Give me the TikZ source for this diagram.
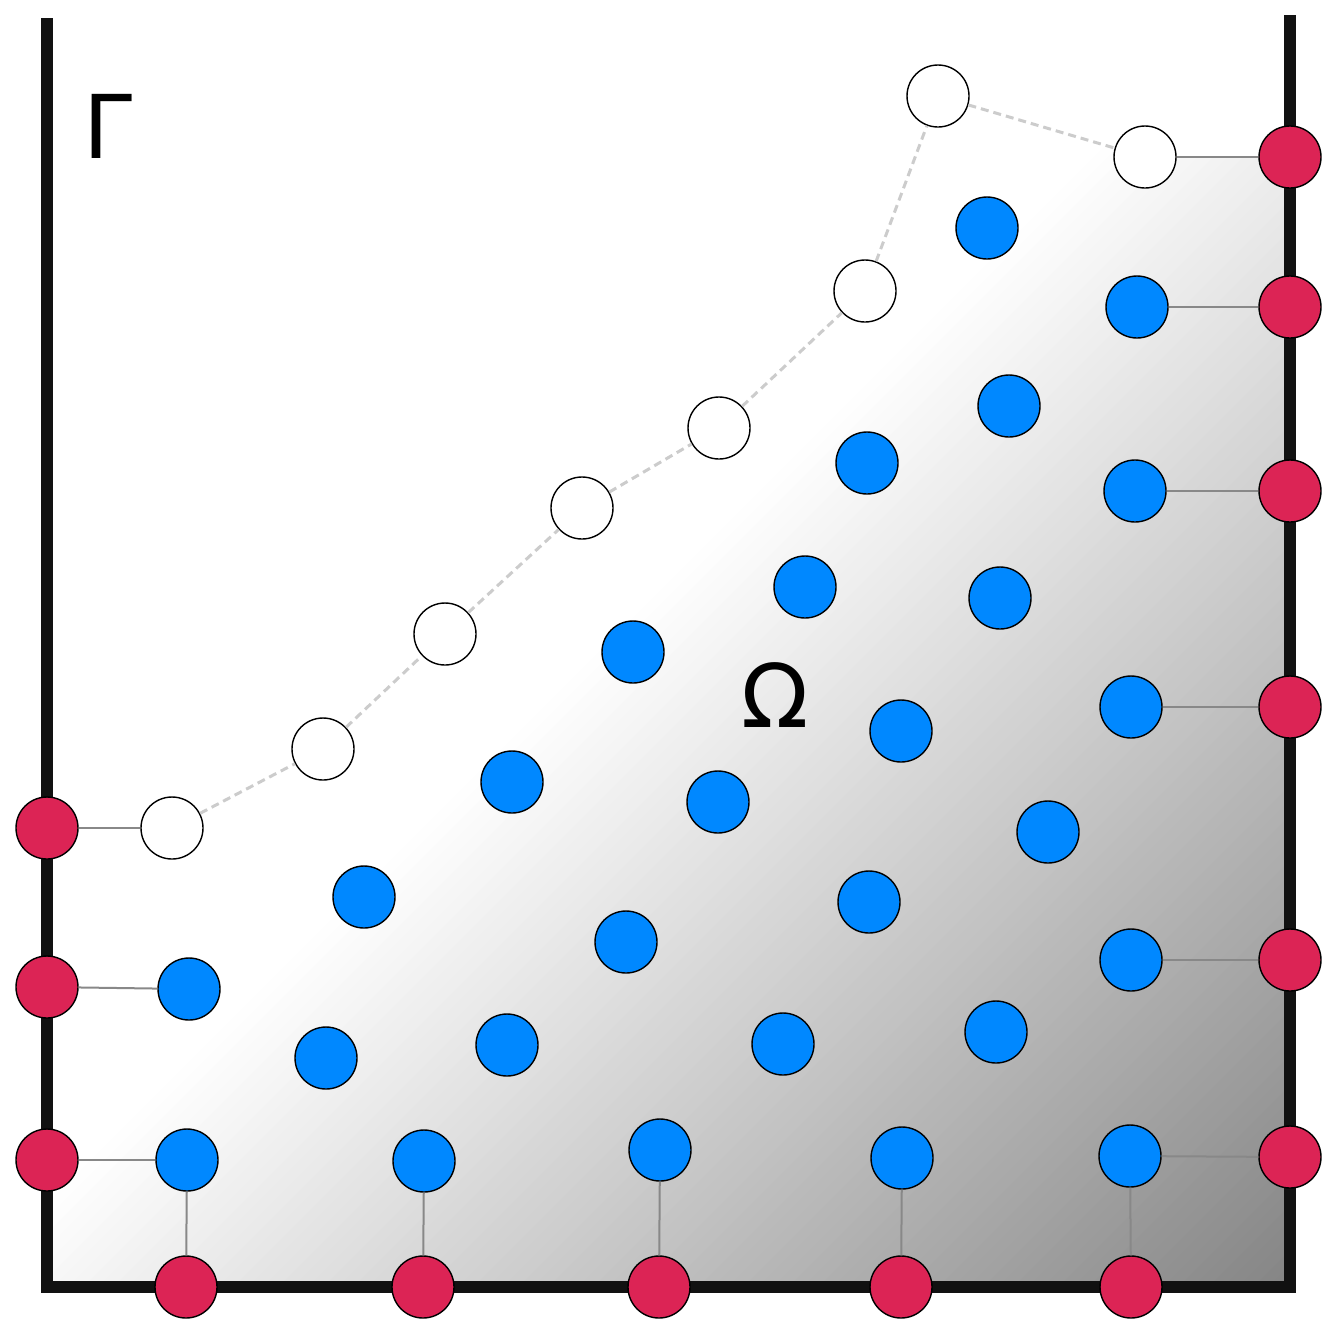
\documentclass[tikz,border=0pt]{standalone}
\usepackage{fontspec}
\newfontfamily\dvsans{DejaVu Sans}
\definecolor{redc}{RGB}{220,36,85}
\definecolor{bluec}{RGB}{0,136,255}
\definecolor{wallc}{RGB}{17,17,17}
\definecolor{linkc}{RGB}{136,136,136}
\definecolor{dashc}{RGB}{204,204,204}
\begin{document}
\begin{tikzpicture}[x=0.5pt,y=-0.5pt,
  pt/.style={circle,draw=black,line width=0.7pt,minimum size=31pt,inner sep=0pt},
  redn/.style={pt,fill=redc},
  bluen/.style={pt,fill=bluec},
  whiten/.style={pt,fill=white},
  link/.style={draw=linkc,line width=1pt},
  dlink/.style={draw=dashc,line width=1.5pt,dash pattern=on 4pt off 2.5pt},
  wall/.style={draw=wallc,line width=6pt,line join=miter},
  lbl/.style={inner sep=0pt,font=\dvsans\fontsize{44}{44}\selectfont}]
\useasboundingbox (0,0) rectangle (1342,1339);
% gradient region
\begin{scope}
\clip (47,828) -- (172,828) -- (323,749) -- (445,634) -- (582,508) -- (719,428)
  -- (865,291) -- (938,96) -- (1145,157) -- (1290,157) -- (1290,1287) -- (47,1287) -- cycle;
\foreach \s in {1250,1265,...,2585}{
  \pgfmathsetmacro\k{max(0,min(48,(\s+7.5-1250)/1327*48))}
  \fill[black!\k] (\s+1500,-1500) -- (\s-1500,1500) -- (\s+16-1500,1500) -- (\s+16+1500,-1500) -- cycle;
}
\end{scope}
% walls
\coordinate (wtl) at (47,18);
\coordinate (wbl) at (47,1287);
\coordinate (wbr) at (1290,1287);
\coordinate (wtr) at (1290,15);
\draw[wall] (wtl) -- (wbl) -- (wbr) -- (wtr);
% nodes
\node[whiten] (w1) at (172,828) {};
\node[whiten] (w2) at (323,749) {};
\node[whiten] (w3) at (445,634) {};
\node[whiten] (w4) at (582,508) {};
\node[whiten] (w5) at (719,428) {};
\node[whiten] (w6) at (865,291) {};
\node[whiten] (w7) at (938,96) {};
\node[whiten] (w8) at (1145,157) {};
\node[bluen] (b1) at (987,228) {};
\node[bluen] (b2) at (1137,307) {};
\node[bluen] (b3) at (1009,406) {};
\node[bluen] (b4) at (867,463) {};
\node[bluen] (b5) at (1135,491) {};
\node[bluen] (b6) at (805,587) {};
\node[bluen] (b7) at (1000,598) {};
\node[bluen] (b8) at (633,652) {};
\node[bluen] (b9) at (901,731) {};
\node[bluen] (b10) at (1131,707) {};
\node[bluen] (b11) at (512,782) {};
\node[bluen] (b12) at (718,802) {};
\node[bluen] (b13) at (1048,832) {};
\node[bluen] (b14) at (364,897) {};
\node[bluen] (b15) at (869,902) {};
\node[bluen] (b16) at (626,942) {};
\node[bluen] (b17) at (1131,960) {};
\node[bluen] (b18) at (189,989) {};
\node[bluen] (b19) at (326,1058) {};
\node[bluen] (b20) at (507,1045) {};
\node[bluen] (b21) at (783,1044) {};
\node[bluen] (b22) at (996,1032) {};
\node[bluen] (b23) at (187,1160) {};
\node[bluen] (b24) at (424,1161) {};
\node[bluen] (b25) at (660,1150) {};
\node[bluen] (b26) at (902,1158) {};
\node[bluen] (b27) at (1130,1156) {};
\node[redn] (l1) at (47,828) {};
\node[redn] (l2) at (47,987) {};
\node[redn] (l3) at (47,1160) {};
\node[redn] (d1) at (186,1287) {};
\node[redn] (d2) at (423,1287) {};
\node[redn] (d3) at (659,1287) {};
\node[redn] (d4) at (901,1287) {};
\node[redn] (d5) at (1131,1287) {};
\node[redn] (r1) at (1290,157) {};
\node[redn] (r2) at (1290,307) {};
\node[redn] (r3) at (1290,491) {};
\node[redn] (r4) at (1290,707) {};
\node[redn] (r5) at (1290,960) {};
\node[redn] (r6) at (1290,1157) {};
% connectors
\draw[dlink] (w1) -- (w2) -- (w3) -- (w4) -- (w5) -- (w6) -- (w7) -- (w8);
\draw[link] (l1) -- (w1);
\draw[link] (l2) -- (b18);
\draw[link] (l3) -- (b23);
\draw[link] (b23) -- (d1);
\draw[link] (b24) -- (d2);
\draw[link] (b25) -- (d3);
\draw[link] (b26) -- (d4);
\draw[link] (b27) -- (d5);
\draw[link] (b27) -- (r6);
\draw[link] (b17) -- (r5);
\draw[link] (b10) -- (r4);
\draw[link] (b5) -- (r3);
\draw[link] (b2) -- (r2);
\draw[link] (w8) -- (r1);
\node[lbl] (gam) at (108,126) {Γ};
\node[lbl] (om) at (775,695) {Ω};
\end{tikzpicture}
\end{document}
